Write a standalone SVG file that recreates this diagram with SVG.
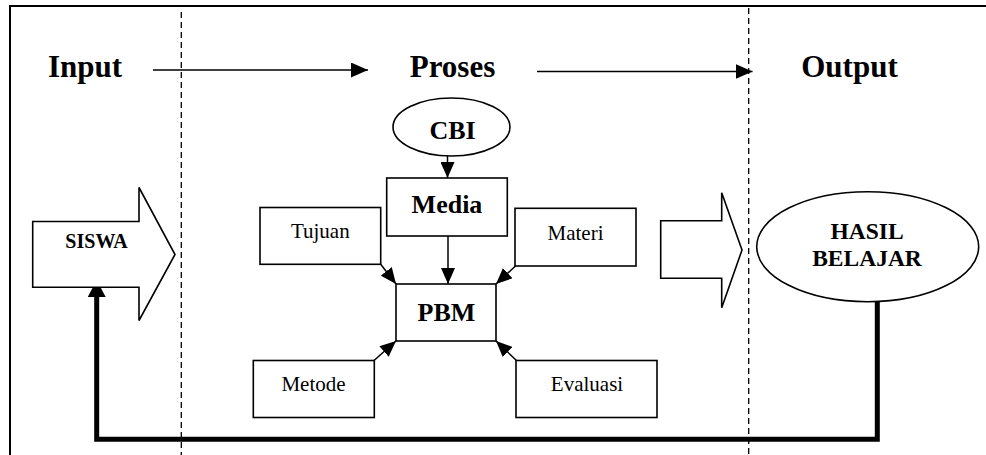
<svg xmlns="http://www.w3.org/2000/svg" width="986" height="455" viewBox="0 0 986 455">
<defs>
<style>
text{font-family:'Liberation Serif','Times New Roman',Times,serif;fill:#000;text-anchor:middle}
.b{font-weight:bold}
.box{fill:#fff;stroke:#000;stroke-width:1.6}
.ln{fill:none;stroke:#000;stroke-width:1.5}
.dash{fill:none;stroke:#000;stroke-width:1.3;stroke-dasharray:6 4}
</style>
<marker id="ah" markerUnits="userSpaceOnUse" markerWidth="17" markerHeight="15" refX="17" refY="7.5" orient="auto" viewBox="0 0 17 15">
<path d="M0,0 L17,7.5 L0,15 z" fill="#000"/>
</marker>
<marker id="ahs" markerUnits="userSpaceOnUse" markerWidth="16" markerHeight="14" refX="16" refY="7" orient="auto" viewBox="0 0 16 14">
<path d="M0,0 L16,7 L0,14 z" fill="#000"/>
</marker>
<marker id="big" markerUnits="userSpaceOnUse" markerWidth="17" markerHeight="18" refX="17" refY="9" orient="auto" viewBox="0 0 17 18">
<path d="M0,0 L17,9 L0,18 z" fill="#000"/>
</marker>
</defs>
<rect width="986" height="455" fill="#fff"/>
<g id="frame">
<path d="M10,455 L10,6 L986,6" fill="none" stroke="#000" stroke-width="2"/>
<line class="dash" x1="181.3" y1="12" x2="181.3" y2="455"/>
<line class="dash" x1="748.7" y1="8" x2="748.7" y2="455"/>
</g>
<g id="headers">
<text class="b" x="85" y="77" font-size="31" font-family="Liberation Serif">Input</text>
<text class="b" x="452.5" y="77" font-size="31" font-family="Liberation Serif">Proses</text>
<text class="b" x="849.5" y="77" font-size="31" font-family="Liberation Serif">Output</text>
</g>
<g id="connectors">
<line class="ln" x1="153" y1="70" x2="368" y2="70" marker-end="url(#ah)"/>
<line class="ln" x1="537" y1="71.5" x2="752.5" y2="71.5" marker-end="url(#ah)"/>
<line class="ln" x1="447.5" y1="156" x2="447.5" y2="178" marker-end="url(#ahs)"/>
<line class="ln" x1="448" y1="236" x2="448" y2="284" marker-end="url(#ahs)"/>
<line class="ln" x1="380.5" y1="264" x2="396" y2="284" marker-end="url(#ahs)"/>
<line class="ln" x1="515.5" y1="266" x2="496" y2="284" marker-end="url(#ahs)"/>
<line class="ln" x1="374" y1="360.5" x2="396" y2="341" marker-end="url(#ahs)"/>
<line class="ln" x1="516.5" y1="360.5" x2="496" y2="341" marker-end="url(#ahs)"/>
<path d="M877.3,301 L877.3,439.3 L96.7,439.3 L96.7,280" fill="none" stroke="#000" stroke-width="5" marker-end="url(#big)"/>
</g>
<g id="siswa">
<path class="box" d="M32.7,221.5 L139,221.5 L139,187.5 L175,254.5 L139,320.5 L139,287.3 L32.7,287.3 Z"/>
<text class="b" x="96.5" y="247.5" font-size="20" font-family="Liberation Serif">SISWA</text>
</g>
<g id="cbi">
<ellipse class="box" cx="451.5" cy="127" rx="58.5" ry="29"/>
<text class="b" x="452.5" y="138.7" font-size="26" font-family="Liberation Serif">CBI</text>
</g>
<g id="media">
<rect class="box" x="386.7" y="178" width="120.6" height="58"/>
<text class="b" x="447" y="213.3" font-size="26" font-family="Liberation Serif">Media</text>
</g>
<g id="tujuan">
<rect class="box" x="260" y="207.5" width="120.7" height="56.8"/>
<text x="320.3" y="237.5" font-size="21" font-family="Liberation Serif">Tujuan</text>
</g>
<g id="materi">
<rect class="box" x="515" y="208.3" width="121" height="57.7"/>
<text x="575.5" y="240" font-size="21" font-family="Liberation Serif">Materi</text>
</g>
<g id="pbm">
<rect class="box" x="396" y="284" width="100" height="57"/>
<text class="b" x="446.5" y="320.7" font-size="26" font-family="Liberation Serif">PBM</text>
</g>
<g id="metode">
<rect class="box" x="253.3" y="360.5" width="121" height="57"/>
<text x="313.5" y="390.7" font-size="21" font-family="Liberation Serif">Metode</text>
</g>
<g id="evaluasi">
<rect class="box" x="516" y="360.5" width="141" height="57"/>
<text x="587" y="390.7" font-size="21" font-family="Liberation Serif">Evaluasi</text>
</g>
<g id="output-arrow">
<path class="box" d="M660.7,220.7 L721.7,220.7 L721.7,192.7 L742,250 L721.7,307.7 L721.7,278.3 L660.7,278.3 Z"/>
</g>
<g id="hasil">
<ellipse class="box" cx="867.7" cy="246.7" rx="111" ry="55"/>
<text class="b" x="867" y="239.3" font-size="23.5" font-family="Liberation Serif">HASIL</text>
<text class="b" x="867" y="266" font-size="23.5" font-family="Liberation Serif">BELAJAR</text>
</g>
</svg>
